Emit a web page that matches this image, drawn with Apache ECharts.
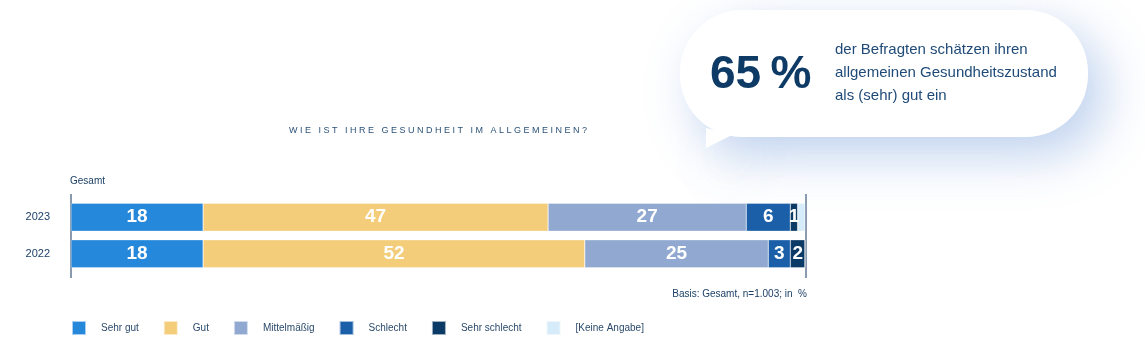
<!DOCTYPE html>
<html>
<head>
<meta charset="utf-8">
<script src="https://cdn.jsdelivr.net/npm/echarts@6/dist/echarts.min.js"></script>
<style>
  html, body { margin: 0; padding: 0; background: #fff; }
  #chart { width: 1145px; height: 353px; }
</style>
</head>
<body>
<div id="chart"></div>
<script>
// data
var years = ['2023', '2022'];
var sehrGut = [18, 18];
var gut = [47, 52];
var mittel = [27, 25];
var schlecht = [6, 3];
var sehrSchlecht = [1, 2];
var keineAngabe = [1, 0];

var names = ['Sehr gut', 'Gut', 'Mittelmäßig', 'Schlecht', 'Sehr schlecht', '[Keine Angabe]'];
var colors = ['#2688da', '#f4cd7a', '#91a8d0', '#1a5fa8', '#0b3a66', '#d6ecfb'];
var values = [sehrGut, gut, mittel, schlecht, sehrSchlecht, keineAngabe];

var fontFam = '"Liberation Sans", Arial, sans-serif';
var dark = '#1c3f66';
var glow = { shadowBlur: 50, shadowColor: 'rgba(100,145,215,0.42)', shadowOffsetX: 16, shadowOffsetY: 18 };

var chart = echarts.init(document.getElementById('chart'));

var series = [];
for (var i = 0; i < names.length; i++) {
    series.push({
        name: names[i],
        type: 'bar',
        stack: 'total',
        barWidth: 28,
        data: values[i],
        itemStyle: { color: colors[i], borderColor: 'rgba(255,255,255,0.6)', borderWidth: 0.5 },
        label: {
            show: i < 5,
            position: 'inside',
            color: '#fff',
            fontFamily: fontFam,
            fontWeight: 'bold',
            fontSize: 19,
            formatter: function (p) { return p.value > 0 ? p.value : ''; }
        }
    });
}

var option = {
    animation: false,
    backgroundColor: '#fff',
    grid: { left: 71, right: 340, top: 199, height: 73 },
    xAxis: { type: 'value', min: 0, max: 100, show: false },
    yAxis: {
        type: 'category',
        data: years,
        inverse: true,
        axisLine: { show: false },
        axisTick: { show: false },
        axisLabel: { color: dark, fontSize: 11, fontFamily: fontFam, margin: 21 }
    },
    legend: {
        left: 71,
        top: 320,
        padding: 0,
        itemWidth: 14,
        itemHeight: 14,
        itemGap: 24,
        icon: 'rect',
        data: names,
        textStyle: { color: '#2b4a6b', fontSize: 10, fontFamily: fontFam, padding: [0, 0, 0, 10] }
    },
    title: [
        {
            text: 'W I E   I S T   I H R E   G E S U N D H E I T   I M   A L L G E M E I N E N ?',
            left: 438, top: 126, padding: 0, textAlign: 'center',
            textStyle: { color: '#2b5279', fontSize: 9, fontWeight: 'normal', fontFamily: fontFam }
        },
        {
            text: 'Gesamt', left: 70, top: 176, padding: 0,
            textStyle: { color: dark, fontSize: 10, fontWeight: 'normal', fontFamily: fontFam }
        },
        {
            text: 'Basis: Gesamt, n=1.003; in  %', right: 338, top: 289, padding: 0,
            textStyle: { color: dark, fontSize: 10, fontWeight: 'normal', fontFamily: fontFam }
        }
    ],
    graphic: [
        // axis lines at both ends of the bars
        { type: 'line', shape: { x1: 71, y1: 194, x2: 71, y2: 278 }, style: { stroke: '#8a9bb0', lineWidth: 2 } },
        { type: 'line', shape: { x1: 806, y1: 194, x2: 806, y2: 278 }, style: { stroke: '#8a9bb0', lineWidth: 2 } },
        // callout bubble
        {
            type: 'group',
            children: [
                {
                    type: 'polygon',
                    shape: { points: [[706, 128], [706, 148], [732, 135]] },
                    style: Object.assign({ fill: '#fff' }, glow)
                },
                {
                    type: 'rect',
                    shape: { x: 680, y: 10, width: 408, height: 127, r: 62 },
                    style: Object.assign({ fill: '#fff' }, glow)
                },
                {
                    type: 'polygon',
                    shape: { points: [[706, 128], [706, 148], [732, 135]] },
                    style: { fill: '#fff' }
                },
                {
                    type: 'text', x: 710, y: 75,
                    style: {
                        text: '65\u2009%', fill: '#0e3a66', font: 'bold 46px ' + fontFam,
                        textVerticalAlign: 'middle'
                    }
                },
                {
                    type: 'text', x: 835, y: 73,
                    style: {
                        text: 'der Befragten schätzen ihren\nallgemeinen Gesundheitszustand\nals (sehr) gut ein',
                        fill: '#1f4a78', font: '15px ' + fontFam, lineHeight: 23,
                        textVerticalAlign: 'middle'
                    }
                }
            ]
        }
    ],
    series: series
};

chart.setOption(option);
</script>
</body>
</html>
